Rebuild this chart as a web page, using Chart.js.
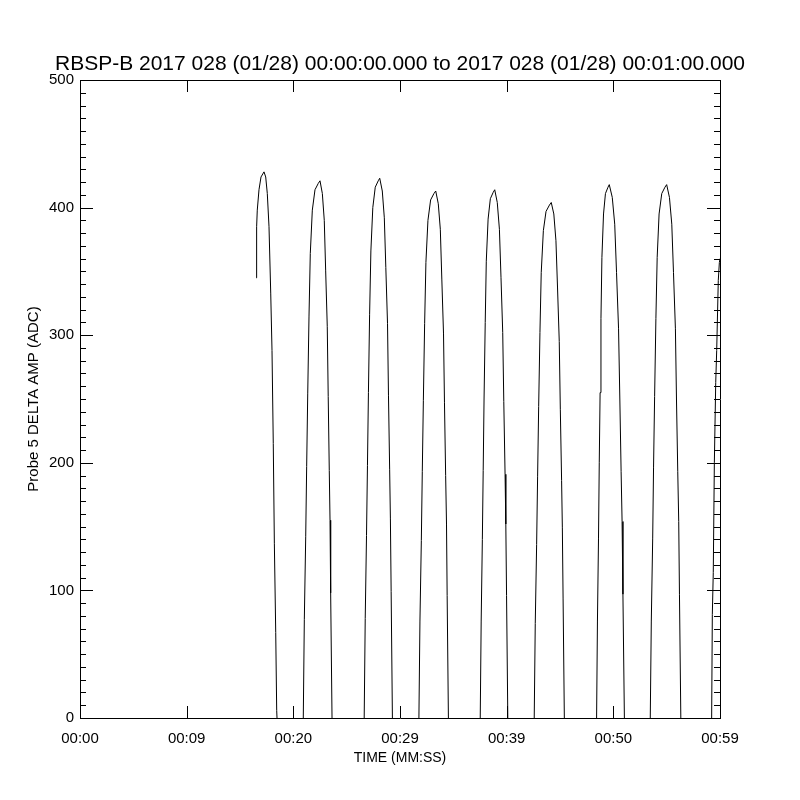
<!DOCTYPE html>
<html><head><meta charset="utf-8">
<script src="https://cdn.jsdelivr.net/npm/chart.js@4.4.1/dist/chart.umd.min.js"></script>
<style>html,body{margin:0;padding:0;background:#fff}canvas{display:block}</style>
</head><body>
<canvas id="c" width="800" height="800"></canvas>
<script>
const titleText = 'RBSP-B 2017 028 (01/28) 00:00:00.000 to 2017 028 (01/28) 00:01:00.000';
const xAxisTitle = 'TIME (MM:SS)';
const yAxisTitle = 'Probe 5 DELTA AMP (ADC)';
const xTickValues = [0, 10, 20, 30, 40, 50, 60];
const xTickLabels = ['00:00', '00:09', '00:20', '00:29', '00:39', '00:50', '00:59'];
const yTickValues = [0, 100, 200, 300, 400, 500];

// time in seconds since 00:00:00
const times = [
  16.50,16.56,16.62,16.78,16.97,17.25,17.41,17.56,17.72,17.88,18.00,18.12,18.22,18.35,18.44,18.52,
  20.92,21.03,21.16,21.25,21.35,21.47,21.59,21.78,22.03,22.34,22.50,22.72,22.90,23.03,23.18,23.27,23.37,23.44,23.50,23.64,
  26.63,26.74,26.86,26.95,27.04,27.15,27.27,27.45,27.68,27.96,28.10,28.34,28.53,28.67,28.83,28.92,29.03,29.10,29.17,29.30,
  31.76,31.87,32.00,32.09,32.19,32.31,32.43,32.62,32.87,33.18,33.35,33.59,33.78,33.92,34.08,34.17,34.28,34.36,34.42,34.55,
  37.51,37.61,37.72,37.80,37.88,37.99,38.09,38.26,38.47,38.74,38.88,39.12,39.32,39.47,39.63,39.73,39.85,39.92,39.99,40.12,
  42.57,42.68,42.81,42.90,43.00,43.12,43.24,43.44,43.69,44.01,44.18,44.42,44.62,44.77,44.93,45.03,45.15,45.22,45.29,45.42,
  48.42,48.51,48.61,48.68,48.76,48.84,48.93,49.08,49.26,49.50,49.62,49.90,50.13,50.30,50.49,50.61,50.73,50.82,50.90,51.05,
  53.45,53.56,53.69,53.77,53.87,53.99,54.11,54.29,54.54,54.84,55.00,55.26,55.48,55.64,55.82,55.92,56.04,56.13,56.20,56.34,
  59.21,59.28,59.37,59.47,59.60,59.69,59.84,59.94,60.00
];
const amps = [
  345,385,398,414,424,428,424,411,385,333,288,215,137,67,6,-10,
  -10,77,142,197,254,315,364,398,414,419,421,411,390,351,307,252,194,155,98,-10,
  -10,78,143,198,255,316,366,400,416,421,423,413,392,353,309,253,195,156,99,-10,
  -10,76,139,193,249,309,357,390,406,411,413,403,383,344,301,247,190,152,96,-10,
  -10,76,140,194,250,310,358,391,407,412,414,404,383,345,302,248,191,152,96,-10,
  -10,74,136,189,244,302,349,382,397,402,404,395,374,337,295,242,186,149,94,-10,
  -10,76,141,200,255,313,361,395,411,416,418,408,387,349,305,250,193,154,97,-10,
  -10,76,141,196,252,313,361,395,411,416,418,408,387,349,305,250,193,154,97,-10,
  -10,81,114,200,263,288,343,357,360
];

const FONT = "'Liberation Sans', Arial, sans-serif";
const yMinorTickValues = [];
for (let v = 10; v < 500; v += 10) if (v % 100 !== 0) yMinorTickValues.push(v);

const inwardTicks = {
  id: 'inwardTicks',
  afterDatasetsDraw(chart) {
    const {ctx, chartArea: a, scales: {x, y}} = chart;
    ctx.save();
    ctx.strokeStyle = '#000';
    ctx.lineWidth = 1;
    ctx.beginPath();
    xTickValues.forEach(v => {
      const px = Math.round(x.getPixelForValue(v)) + 0.5;
      ctx.moveTo(px, a.bottom); ctx.lineTo(px, a.bottom - 12);
      ctx.moveTo(px, a.top); ctx.lineTo(px, a.top + 12);
    });
    yTickValues.forEach(v => {
      const py = Math.round(y.getPixelForValue(v)) + 0.5;
      ctx.moveTo(a.left, py); ctx.lineTo(a.left + 13, py);
      ctx.moveTo(a.right, py); ctx.lineTo(a.right - 13, py);
    });
    yMinorTickValues.forEach(v => {
      const py = Math.round(y.getPixelForValue(v)) + 0.5;
      ctx.moveTo(a.left, py); ctx.lineTo(a.left + 6, py);
      ctx.moveTo(a.right, py); ctx.lineTo(a.right - 6, py);
    });
    ctx.stroke();
    ctx.restore();
  }
};

new Chart(document.getElementById('c'), {
  type: 'line',
  data: {
    datasets: [{
      data: times.map((t, i) => ({x: t, y: amps[i]})),
      borderColor: '#000',
      borderWidth: 1,
      pointRadius: 0,
      tension: 0,
      fill: false,
      clip: 0
    }]
  },
  options: {
    responsive: false,
    animation: false,
    layout: {padding: 0},
    plugins: {
      legend: {display: false},
      tooltip: {enabled: false},
      title: {
        display: true,
        text: titleText,
        color: '#000',
        font: {family: FONT, size: 21, weight: 'normal'},
        padding: {top: 51.4, bottom: 3.4}
      }
    },
    scales: {
      x: {
        type: 'linear', position: 'bottom', min: 0, max: 60,
        afterBuildTicks: s => { s.ticks = xTickValues.map(v => ({value: v})); },
        afterFit: s => { s.height = 82; },
        ticks: {
          color: '#000', font: {family: FONT, size: 15}, padding: 12, maxRotation: 0,
          callback: (v, i) => xTickLabels[i]
        },
        grid: {display: false, drawTicks: false},
        border: {display: true, color: '#000', width: 1},
        title: {display: true, text: xAxisTitle, color: '#000', font: {family: FONT, size: 14}, padding: {top: 0, bottom: 33.6}}
      },
      x2: {
        type: 'linear', position: 'top', min: 0, max: 60,
        afterFit: s => { s.height = 0; },
        ticks: {display: false},
        grid: {display: false, drawTicks: false},
        border: {display: true, color: '#000', width: 1}
      },
      y: {
        type: 'linear', position: 'left', min: 0, max: 500,
        afterBuildTicks: s => { s.ticks = yTickValues.map(v => ({value: v})); },
        afterFit: s => { s.width = 80; },
        ticks: {color: '#000', font: {family: FONT, size: 15}, padding: 6, callback: v => String(v)},
        grid: {display: false, drawTicks: false},
        border: {display: true, color: '#000', width: 1},
        title: {display: true, text: yAxisTitle, color: '#000', font: {family: FONT, size: 15}, padding: {top: 25, bottom: 0}}
      },
      y2: {
        type: 'linear', position: 'right', min: 0, max: 500,
        afterFit: s => { s.width = 80; },
        ticks: {display: false},
        grid: {display: false, drawTicks: false},
        border: {display: true, color: '#000', width: 1}
      }
    }
  },
  plugins: [inwardTicks]
});
</script>
</body></html>
